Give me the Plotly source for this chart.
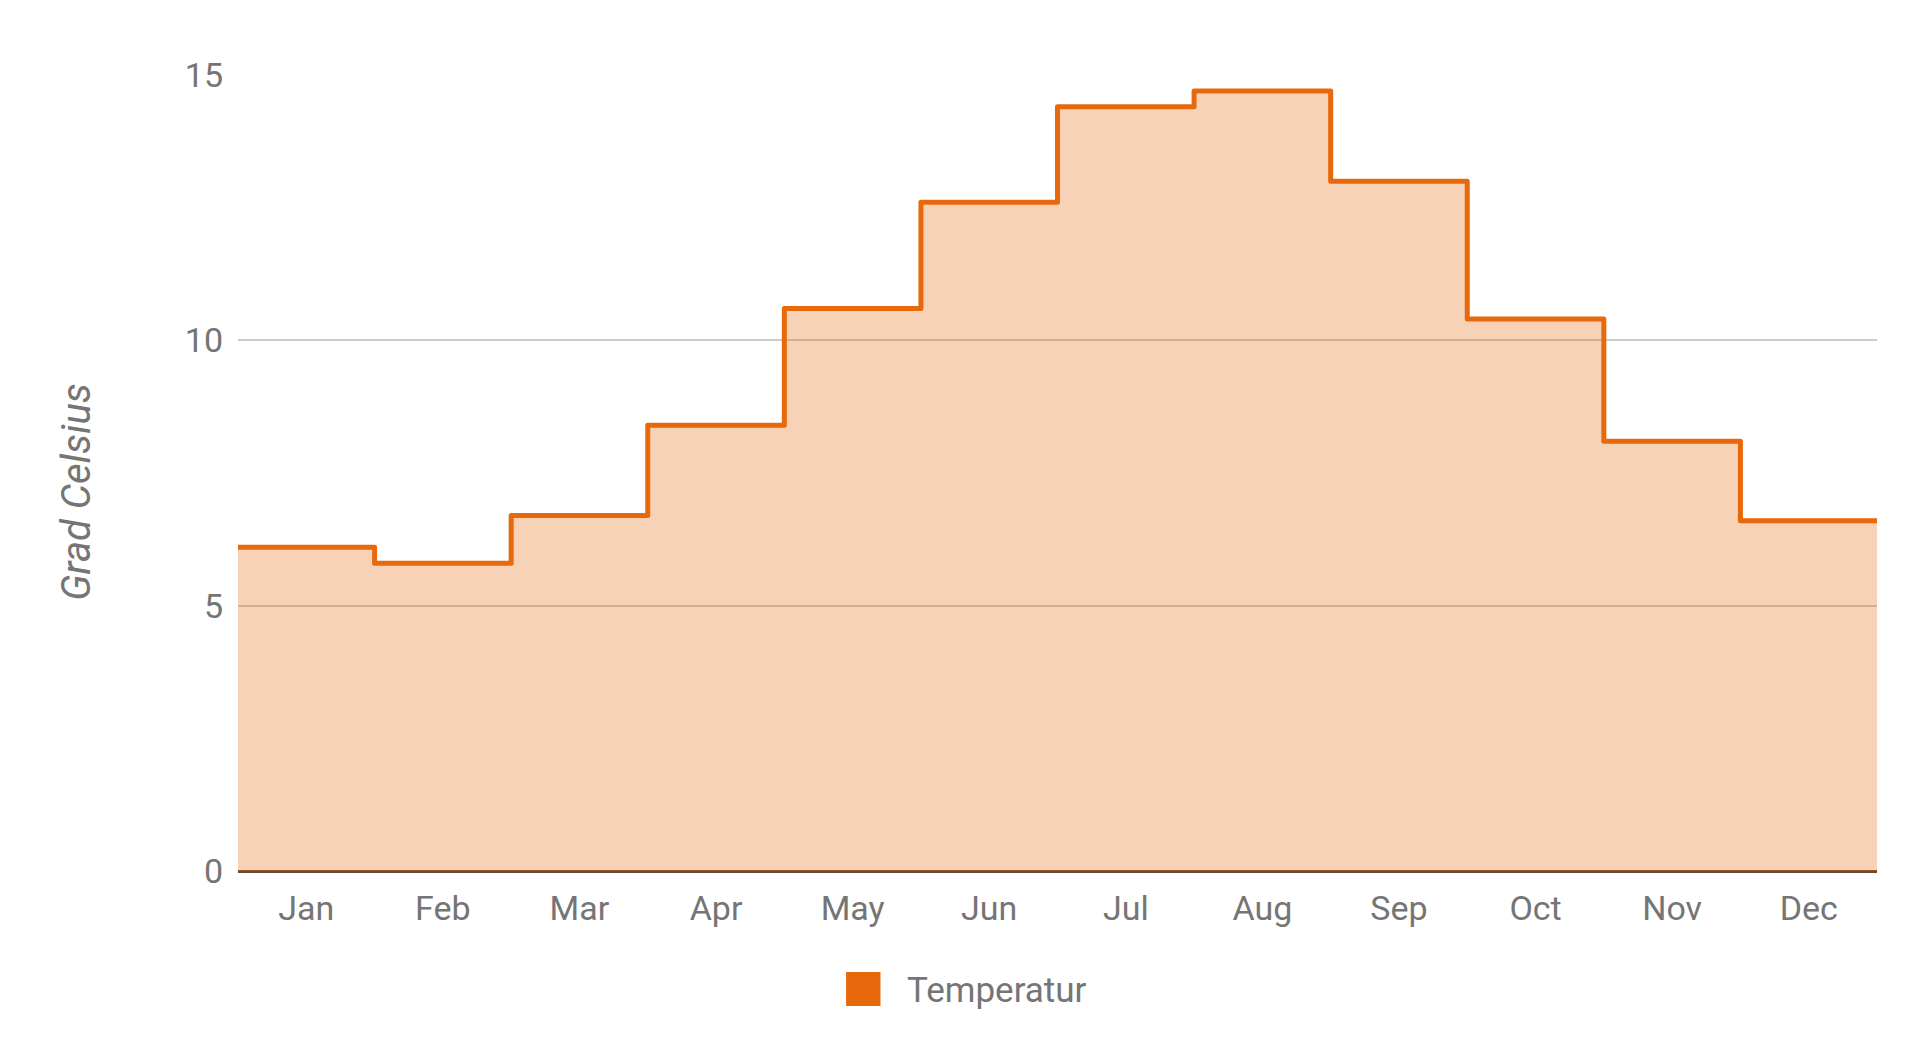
import plotly.graph_objects as go

# Monthly mean temperature (Grad Celsius)
months = ["Jan", "Feb", "Mar", "Apr", "May", "Jun",
          "Jul", "Aug", "Sep", "Oct", "Nov", "Dec"]
temps = [6.1, 5.8, 6.7, 8.4, 10.6, 12.6, 14.4, 14.7, 13.0, 10.4, 8.1, 6.6]
y_ticks = [0, 5, 10, 15]
series_name = "Temperatur"

LINE = "#E8690C"
FILL = "rgba(232,105,12,0.3)"
TEXT = "#757575"
FONT = "Roboto"

# each month is drawn as a flat step across its own category slot
idx = list(range(len(months)))
x_steps = [i - 0.5 for i in idx] + [idx[-1] + 0.5]
y_steps = temps + [temps[-1]]

fig = go.Figure()
fig.add_trace(go.Scatter(
    x=x_steps, y=y_steps,
    mode="lines",
    line=dict(color=LINE, width=5, shape="hv"),
    fill="tozeroy", fillcolor=FILL,
    name=series_name, showlegend=False,
    hoverinfo="skip",
))

fig.update_layout(
    width=1920, height=1058,
    margin=dict(l=238, r=43, t=75, b=187),
    paper_bgcolor="white", plot_bgcolor="white",
    font=dict(family=FONT, size=34, color=TEXT),
    showlegend=False,
    xaxis=dict(
        range=[-0.5, len(months) - 0.5],
        tickvals=idx, ticktext=months,
        showgrid=False, zeroline=False, showline=False,
        ticks="", ticklabelstandoff=14,
        tickfont=dict(size=34, color=TEXT),
        fixedrange=True,
    ),
    yaxis=dict(
        range=[0, 15], tickvals=y_ticks,
        showgrid=True, gridcolor="#CCCCCC", gridwidth=2,
        zeroline=True, zerolinecolor="#6A4A35", zerolinewidth=2.5,
        showline=False, ticks="", ticklabelstandoff=14,
        tickfont=dict(size=34, color=TEXT),
        fixedrange=True,
    ),
)

# axis title placed like the original (slightly below plot centre)
fig.add_annotation(
    text="<i>Grad Celsius</i>", textangle=-90,
    xref="paper", yref="paper", x=-0.099, y=0.476,
    xanchor="center", yanchor="middle",
    showarrow=False, font=dict(size=40, color=TEXT, family=FONT),
)

# legend: solid square swatch plus series name
fig.add_shape(
    type="rect", xref="paper", yref="paper",
    x0=0.371, x1=0.392, y0=-0.1696, y1=-0.1269,
    fillcolor=LINE, line=dict(width=0),
)
fig.add_annotation(
    text=series_name, xref="paper", yref="paper",
    x=0.407, y=-0.1495, xanchor="left", yanchor="middle",
    showarrow=False, font=dict(size=35, color=TEXT, family=FONT),
)

# no page margin, rounded corners on the step line
post = (
    "document.body.style.margin='0';"
    "document.querySelectorAll('.js-line').forEach(function(p){"
    "p.style.strokeLinejoin='round';});"
)
fig.write_html("out.html", config={"displayModeBar": False}, post_script=post)
